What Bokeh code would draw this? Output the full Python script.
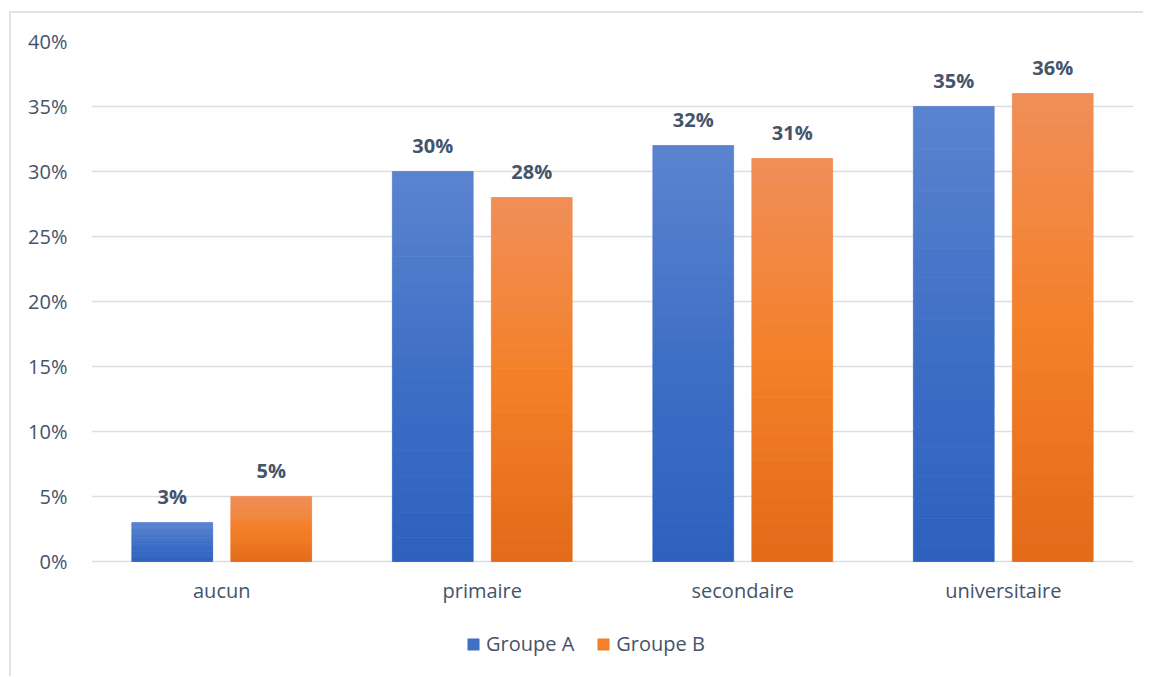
from bokeh.plotting import figure
from bokeh.models import (ColumnDataSource, FactorRange, Range1d, LabelSet, Legend, LegendItem,
                          FixedTicker, PrintfTickFormatter)
from bokeh.core.properties import value
from bokeh.transform import dodge
from bokeh.embed import file_html
from bokeh.resources import INLINE

# ---- data ----
categories = ["aucun", "primaire", "secondaire", "universitaire"]
groupe_a = [3, 30, 32, 35]
groupe_b = [5, 28, 31, 36]
series_names = ["Groupe A", "Groupe B"]
y_ticks = [0, 5, 10, 15, 20, 25, 30, 35, 40]

# ---- style ----
FONT = "Open Sans"
TEXT = "#44546A"
GRID = "#D9DEE6"
BLUE_STOPS = ["#5B84CF", "#3F6FC6", "#2D61BE"]     # top, middle, bottom
ORANGE_STOPS = ["#F08E58", "#F48028", "#E26A19"]
N_SLICES = 32
OFFSET = 0.19
BAR_W = 0.31
PX_PER_UNIT = 13.0            # 520 px for 40 %
FRAME_H = 663 - 28
Y_END = 40
Y_START = Y_END - FRAME_H / PX_PER_UNIT   # leave room under 0 for labels & legend


def hex2rgb(h):
    h = h.lstrip("#")
    return tuple(int(h[i:i + 2], 16) for i in (0, 2, 4))


def grad(stops, t):
    # t: 0 = top, 1 = bottom
    if t <= 0.5:
        a, b, f = stops[0], stops[1], t / 0.5
    else:
        a, b, f = stops[1], stops[2], (t - 0.5) / 0.5
    ra, rb = hex2rgb(a), hex2rgb(b)
    c = [round(ra[k] + (rb[k] - ra[k]) * f) for k in range(3)]
    return "#%02x%02x%02x" % tuple(c)


def slices(values, stops):
    cat, bot, top, col = [], [], [], []
    for c, v in zip(categories, values):
        for j in range(N_SLICES):
            cat.append(c)
            bot.append(v * j / N_SLICES)
            top.append(v * (j + 1) / N_SLICES)
            t = 1 - (j + 0.5) / N_SLICES
            col.append(grad(stops, t))
    return ColumnDataSource(dict(cat=cat, bottom=bot, top=top, color=col))


p = figure(x_range=FactorRange(factors=categories), y_range=Range1d(Y_START, Y_END),
           frame_width=1042, frame_height=FRAME_H, x_axis_location=None,
           min_border_left=80, min_border_top=28, min_border_right=10, min_border_bottom=0,
           output_backend="svg", toolbar_location=None,
           styles={"border-left": "2px solid #DDE3EA", "border-top": "2px solid #DDE3EA",
                   "margin-left": "9px", "margin-top": "11px"})

p.outline_line_color = None
p.background_fill_color = "white"
p.border_fill_color = "white"

src_a = slices(groupe_a, BLUE_STOPS)
src_b = slices(groupe_b, ORANGE_STOPS)

r_a = p.vbar(x=dodge("cat", -OFFSET, range=p.x_range), bottom="bottom", top="top", width=BAR_W,
             source=src_a, fill_color="color", line_color="color", line_width=0.8)
r_b = p.vbar(x=dodge("cat", OFFSET, range=p.x_range), bottom="bottom", top="top", width=BAR_W,
             source=src_b, fill_color="color", line_color="color", line_width=0.8)

lab_src = ColumnDataSource(dict(
    cat=categories,
    a=groupe_a, b=groupe_b,
    la=["%d%%" % v for v in groupe_a],
    lb=["%d%%" % v for v in groupe_b],
))
for ycol, tcol, off in (("a", "la", -OFFSET), ("b", "lb", OFFSET)):
    p.add_layout(LabelSet(x=dodge("cat", off, range=p.x_range), y=ycol, text=tcol, source=lab_src,
                          y_offset=19, text_align="center", text_baseline="alphabetic",
                          text_font=value(FONT), text_font_size=value("20px"),
                          text_font_style=value("bold"), text_color=value(TEXT)))

# category labels (x axis)
p.add_layout(LabelSet(x="cat", y=value(0), text="cat", source=lab_src,
                      y_offset=-36, text_align="center", text_baseline="alphabetic",
                      text_font=value(FONT), text_font_size=value("20px"),
                      text_color=value(TEXT)))

# y axis
p.yaxis.ticker = FixedTicker(ticks=y_ticks)
p.yaxis.formatter = PrintfTickFormatter(format="%d%%")
p.yaxis.axis_line_color = None
p.yaxis.major_tick_line_color = None
p.yaxis.minor_tick_line_color = None
p.yaxis.major_label_standoff = 18
p.yaxis.major_label_text_font = FONT
p.yaxis.major_label_text_font_size = "20px"
p.yaxis.major_label_text_color = TEXT

p.xgrid.grid_line_color = None
p.ygrid.grid_line_color = GRID
p.ygrid.grid_line_width = 1.5

mid = N_SLICES // 2
legend = Legend(items=[LegendItem(label=series_names[0], renderers=[r_a], index=mid),
                       LegendItem(label=series_names[1], renderers=[r_b], index=mid)],
                orientation="horizontal", location=(375, 19),
                glyph_width=14, glyph_height=14, label_standoff=6, spacing=22,
                label_text_font=FONT, label_text_font_size="20px", label_text_color=TEXT,
                border_line_color=None, background_fill_alpha=0,
                margin=0, padding=0)
p.add_layout(legend, "center")

open("out.html", "w").write(file_html(p, INLINE))
